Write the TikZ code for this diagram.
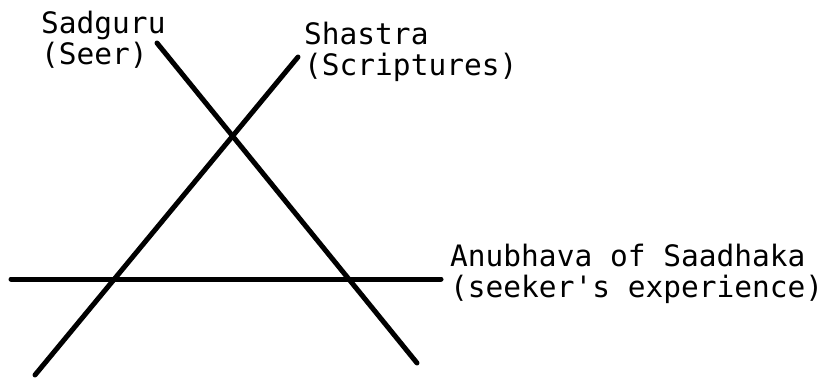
\documentclass[tikz,border=0pt]{standalone}
\usepackage{fontspec}
\setmonofont{DejaVu Sans Mono}
\begin{document}
\begin{tikzpicture}[x=1pt,y=-1pt,
  rayline/.style={line width=5pt,line cap=round,black},
  lbl/.style={anchor=base west,inner sep=0pt,align=left,
    font=\fontsize{29.5}{31}\selectfont\ttfamily}]
\useasboundingbox (0,0) rectangle (836,378);
\fill[white] (0,0) rectangle (836,378);
% line end points
\coordinate (sadTop) at (157,43);
\coordinate (sadBot) at (417,363);
\coordinate (shaTop) at (298,57);
\coordinate (shaBot) at (35,375);
\coordinate (anuL) at (11,279);
\coordinate (anuR) at (441,279);
\draw[rayline] (sadTop) -- (sadBot);
\draw[rayline] (shaTop) -- (shaBot);
\draw[rayline] (anuL) -- (anuR);
% labels (anchor is the baseline of the last line)
\node[lbl] (sad) at (41,64) {Sadguru\\(Seer)};
\node[lbl] (sha) at (304,75) {Shastra\\(Scriptures)};
\node[lbl] (anu) at (450,297) {Anubhava of Saadhaka\\(seeker's experience)};
\end{tikzpicture}
\end{document}
